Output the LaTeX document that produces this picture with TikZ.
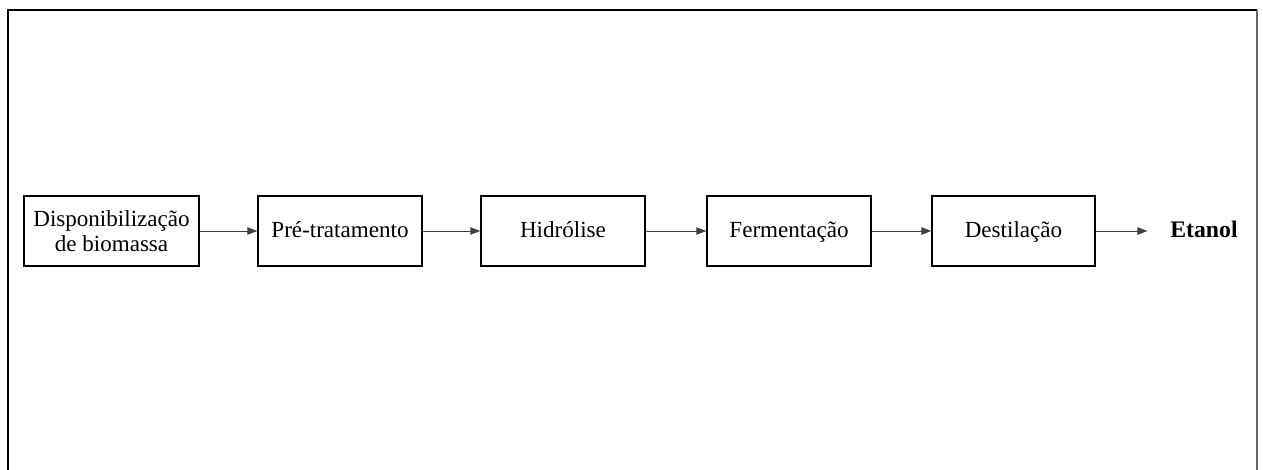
\documentclass[tikz,border=0pt]{standalone}
\usepackage{fontspec}
\setmainfont{Liberation Serif}
\usetikzlibrary{arrows.meta}

\tikzset{
  etapa/.style={draw,line width=0.9pt,minimum width=164*0.75pt,minimum height=70*0.75pt,align=center,inner sep=0pt},
  linha/.style={text height=13.5pt,text depth=3pt},
  seta/.style={-{Triangle[length=7.5pt,width=5.5pt]},line width=0.7pt,draw=black!75}
}

\begin{document}
\begin{tikzpicture}[x=0.75pt,y=-0.75pt,font=\fontsize{17.3}{18.75}\selectfont]
            \useasboundingbox (0,0) rectangle (1263,470);
            \fill[white] (0,0) rectangle (1263,470);
            % moldura
            \draw[line width=1.5pt,black] (8,471)--(8,10)--(1257,10);
            \draw[line width=1.5pt,black!60] (1257,10)--(1257,471);
            % etapas do processo
            \node[etapa,minimum width=175*0.75pt] (biomassa) at (111.5,231) {Disponibilização\\de biomassa};
            \node[etapa,linha] (pretrat) at (340,231) {Pré-tratamento};
            \node[etapa,linha] (hidrol) at (563,231) {Hidrólise};
            \node[etapa,linha] (ferment) at (789,231) {Fermentação};
            \node[etapa,linha,minimum width=163*0.75pt] (destil) at (1013.5,231) {Destilação};
            \node[linha,font=\fontsize{17.8}{20}\selectfont\bfseries,inner xsep=17pt] (etanol) at (1204,231) {Etanol};
            \draw[seta] (biomassa)--(pretrat);
            \draw[seta] (pretrat)--(hidrol);
            \draw[seta] (hidrol)--(ferment);
            \draw[seta] (ferment)--(destil);
            \draw[seta] (destil)--(etanol);
        \end{tikzpicture}
\end{document}
